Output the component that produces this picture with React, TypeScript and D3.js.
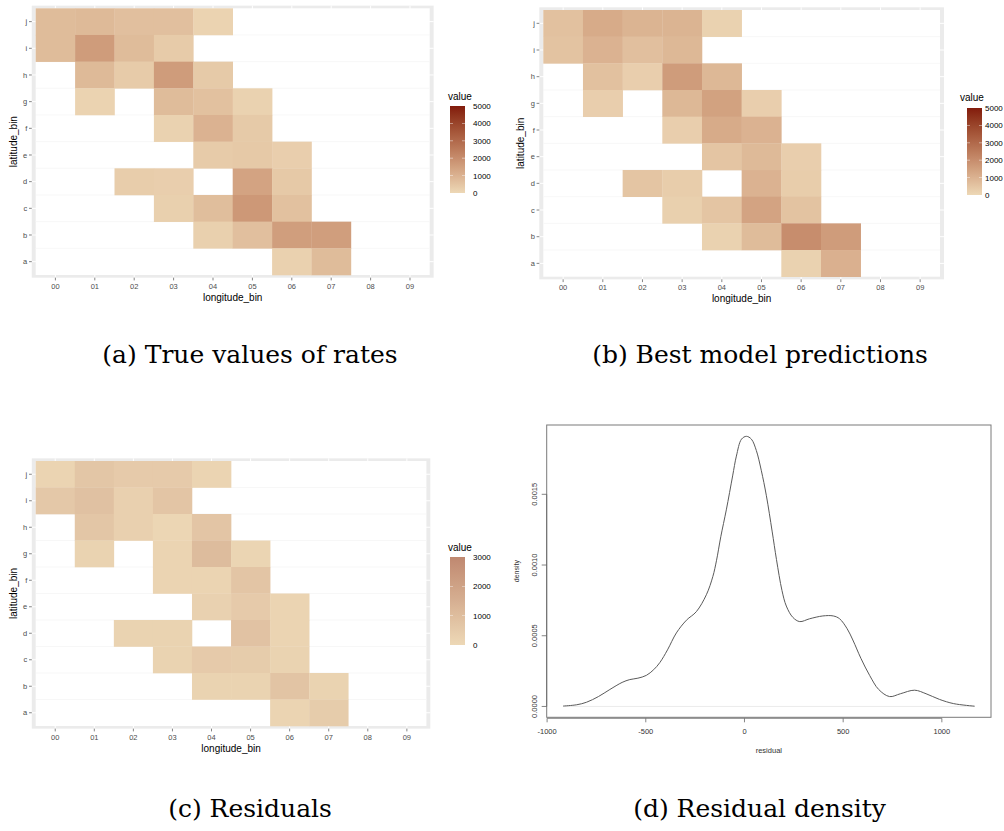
import React from 'react';
import * as d3 from 'd3';

// ---- data ----
const lonBins = ['00', '01', '02', '03', '04', '05', '06', '07', '08', '09'];
const latBins = ['j', 'i', 'h', 'g', 'f', 'e', 'd', 'c', 'b', 'a']; // top to bottom

type Row = (number | null)[];
const _ = null;

// (a) true rates, rows j..a, cols 00..09
const trueRates: Row[] = [
  [750, 800, 650, 650, 120, _, _, _, _, _],
  [750, 1600, 750, 350, _, _, _, _, _, _],
  [_, 800, 350, 1600, 380, _, _, _, _, _],
  [_, 130, _, 750, 600, 150, _, _, _, _],
  [_, _, _, 150, 1000, 380, _, _, _, _],
  [_, _, _, _, 350, 400, 250, _, _, _],
  [_, _, 300, 250, _, 1400, 400, _, _, _],
  [_, _, _, 200, 700, 1700, 600, _, _, _],
  [_, _, _, _, 200, 650, 1550, 1550, _, _],
  [_, _, _, _, _, _, 180, 750, _, _],
];

// (b) model predictions
const predictions: Row[] = [
  [600, 1200, 950, 950, 150, _, _, _, _, _],
  [550, 1000, 650, 850, _, _, _, _, _, _],
  [_, 600, 250, 1600, 850, _, _, _, _, _],
  [_, 250, _, 850, 1450, 250, _, _, _, _],
  [_, _, _, 250, 1200, 1000, _, _, _, _],
  [_, _, _, _, 500, 800, 250, _, _, _],
  [_, _, 500, 300, _, 1000, 300, _, _, _],
  [_, _, _, 200, 500, 1400, 550, _, _, _],
  [_, _, _, _, 150, 750, 2000, 1600, _, _],
  [_, _, _, _, _, _, 150, 1050, _, _],
];

// (c) residuals
const residuals: Row[] = [
  [150, 650, 500, 500, 150, _, _, _, _, _],
  [600, 850, 300, 700, _, _, _, _, _, _],
  [_, 650, 300, 80, 700, _, _, _, _, _],
  [_, 200, _, 150, 1050, 120, _, _, _, _],
  [_, _, _, 150, 150, 700, _, _, _, _],
  [_, _, _, _, 250, 500, 150, _, _, _],
  [_, _, 200, 200, _, 800, 150, _, _, _],
  [_, _, _, 200, 500, 450, 200, _, _, _],
  [_, _, _, _, 200, 200, 750, 200, _, _],
  [_, _, _, _, _, _, 150, 450, _, _],
];

const legendBreaksRates = [0, 1000, 2000, 3000, 4000, 5000];
const legendBreaksResid = [0, 1000, 2000, 3000];

// (d) residual density curve
const densityPts: [number, number][] = [
  [-919, 0.000003], [-850, 0.000012], [-800, 0.00003], [-740, 0.00007], [-682, 0.00012],
  [-620, 0.00017], [-581, 0.00019], [-540, 0.0002], [-497, 0.00022], [-460, 0.00026],
  [-429, 0.00031], [-390, 0.0004], [-345, 0.00052], [-294, 0.00061], [-244, 0.00067],
  [-193, 0.00079], [-160, 0.00092], [-142, 0.00103], [-120, 0.0012], [-92, 0.00139],
  [-60, 0.00163], [-41, 0.00177], [-15, 0.00189], [10, 0.00191], [35, 0.00189],
  [60, 0.00181], [85, 0.00167], [111, 0.00149], [140, 0.00124], [162, 0.00104],
  [190, 0.00082], [212, 0.00071], [245, 0.00063], [280, 0.0006], [330, 0.00062],
  [397, 0.00064], [450, 0.00064], [482, 0.00062], [520, 0.00055], [549, 0.00047],
  [590, 0.00034], [634, 0.00022], [680, 0.00012], [735, 0.00007], [790, 0.00009],
  [862, 0.000115], [920, 0.00009], [988, 0.00005], [1060, 0.00002], [1166, 0.000002],
];
const densXTicks = [-1000, -500, 0, 500, 1000];
const densYTicks = [0, 0.0005, 0.001, 0.0015];

// ---- styles ----
const SANS = '"Liberation Sans", Arial, sans-serif';
const SERIF = '"DejaVu Serif", "Liberation Serif", serif';
const LOW = '#EDD8B6';

const rateColor = d3.scaleLinear<string>().domain([0, 5000]).range([LOW, '#821B0C']).interpolate(d3.interpolateLab);
const residColor = d3.scaleLinear<string>().domain([0, 3000]).range([LOW, '#BF8870']).interpolate(d3.interpolateLab);

interface HeatProps {
  id: string;
  values: Row[];
  color: d3.ScaleLinear<string, string>;
  xr: [number, number];
  yr: [number, number];
  legend: { tx: number; ty: number; bx: number; by0: number; by1: number; max: number; breaks: number[]; lx: number };
}

const Heatmap: React.FC<HeatProps> = ({ id, values, color, xr, yr, legend }) => {
  const x = d3.scaleBand<string>().domain(lonBins).range(xr);
  const y = d3.scaleBand<string>().domain(latBins).range(yr);
  const padX = x.bandwidth() * 0.1;
  const padY = y.bandwidth() * 0.1;
  const left = xr[0] - padX, right = xr[1] + padX;
  const top = yr[0] - padY, bottom = yr[1] + padY;
  const ly = d3.scaleLinear().domain([0, legend.max]).range([legend.by1, legend.by0]);
  const stops = d3.range(0, 1.0001, 0.1);

  return (
    <g>
      <rect x={left} y={top} width={right - left} height={bottom - top} fill="#EBEBEB" />
      {lonBins.map(l => (
        <line key={'gx' + l} x1={x(l)! + x.bandwidth() / 2} x2={x(l)! + x.bandwidth() / 2} y1={top} y2={bottom} stroke="#fff" strokeWidth={1} />
      ))}
      {latBins.map(l => (
        <line key={'gy' + l} y1={y(l)! + y.bandwidth() / 2} y2={y(l)! + y.bandwidth() / 2} x1={left} x2={right} stroke="#fff" strokeWidth={1} />
      ))}
      <rect x={xr[0]} y={yr[0]} width={xr[1] - xr[0]} height={yr[1] - yr[0]} fill="#fff" />
      {latBins.slice(1).map(l => (
        <line key={'sy' + l} x1={xr[0]} x2={xr[1]} y1={y(l)!} y2={y(l)!} stroke="#F5F5F5" strokeWidth={0.8} />
      ))}
      {values.map((row, ri) =>
        row.map((v, ci) =>
          v == null ? null : (
            <rect key={`${ri}-${ci}`} x={x(lonBins[ci])!} y={y(latBins[ri])!} width={x.bandwidth() + 0.3} height={y.bandwidth() + 0.3} fill={color(v)} />
          )
        )
      )}
      {/* axes */}
      {lonBins.map(l => {
        const cx = x(l)! + x.bandwidth() / 2;
        return (
          <g key={'xt' + l}>
            <line x1={cx} x2={cx} y1={bottom} y2={bottom + 2.75} stroke="#333" strokeWidth={0.6} />
            <text x={cx} y={bottom + 11} textAnchor="middle" fontSize={7.5} fill="#4D4D4D" fontFamily={SANS}>{l}</text>
          </g>
        );
      })}
      {latBins.map(l => {
        const cy = y(l)! + y.bandwidth() / 2;
        return (
          <g key={'yt' + l}>
            <line x1={left - 2.75} x2={left} y1={cy} y2={cy} stroke="#333" strokeWidth={0.6} />
            <text x={left - 4.5} y={cy + 2.7} textAnchor="end" fontSize={7.5} fill="#4D4D4D" fontFamily={SANS}>{l}</text>
          </g>
        );
      })}
      <text x={(left + right) / 2} y={bottom + 23} textAnchor="middle" fontSize={10} fontFamily={SANS} fill="#000">longitude_bin</text>
      <text transform={`translate(${left - 15},${(top + bottom) / 2}) rotate(-90)`} textAnchor="middle" fontSize={10} fontFamily={SANS} fill="#000">latitude_bin</text>
      {/* legend */}
      <defs>
        <linearGradient id={id} x1="0" y1="1" x2="0" y2="0">
          {stops.map(s => (
            <stop key={s} offset={s} stopColor={color(s * legend.max)} />
          ))}
        </linearGradient>
      </defs>
      <text x={legend.tx} y={legend.ty} fontSize={10} fontFamily={SANS} fill="#000">value</text>
      <rect x={legend.bx} y={legend.by0} width={15} height={legend.by1 - legend.by0} fill={`url(#${id})`} />
      {legend.breaks.map(b => (
        <g key={'lb' + b}>
          {b > 0 && b < legend.max && (
            <>
              <line x1={legend.bx} x2={legend.bx + 3} y1={ly(b)} y2={ly(b)} stroke="#fff" strokeWidth={0.6} opacity={0.8} />
              <line x1={legend.bx + 12} x2={legend.bx + 15} y1={ly(b)} y2={ly(b)} stroke="#fff" strokeWidth={0.6} opacity={0.8} />
            </>
          )}
          <text x={legend.lx} y={ly(b) + 2.9} fontSize={8} fontFamily={SANS} fill="#000">{b}</text>
        </g>
      ))}
    </g>
  );
};

const DensityPlot: React.FC = () => {
  const x = d3.scaleLinear().domain([-1002, 1249]).range([546.7, 991]);
  const y = d3.scaleLinear().domain([-0.0000766, 0.00199]).range([717.3, 425]);
  const line = d3.line<[number, number]>().x(d => x(d[0])).y(d => y(d[1])).curve(d3.curveCatmullRom.alpha(0.5));
  const x0 = x.range()[0], x1 = x.range()[1];
  const y0 = y.range()[0], y1 = y.range()[1];
  return (
    <g fontFamily={SANS}>
      <rect x={x0} y={y1} width={x1 - x0} height={y0 - y1} fill="none" stroke="#7a7a7a" strokeWidth={1} />
      <line x1={x(densityPts[0][0])} x2={x(densityPts[densityPts.length - 1][0])} y1={y(0)} y2={y(0)} stroke="#E6E6E6" strokeWidth={0.8} />
      <path d={line(densityPts) || ''} fill="none" stroke="#5a5a5a" strokeWidth={1} />
      <line x1={x(densXTicks[0])} x2={x(densXTicks[densXTicks.length - 1])} y1={y0 + 1} y2={y0 + 1} stroke="#666" strokeWidth={0.8} />
      {densXTicks.map(t => (
        <g key={'dx' + t}>
          <line x1={x(t)} x2={x(t)} y1={y0 + 1} y2={y0 + 5} stroke="#666" strokeWidth={0.8} />
          <text x={x(t)} y={y0 + 17} textAnchor="middle" fontSize={7.5} fill="#333">{t}</text>
        </g>
      ))}
      <line x1={x0} x2={x0} y1={y(0)} y2={y(0.0015)} stroke="#666" strokeWidth={0.8} />
      {densYTicks.map(t => (
        <g key={'dy' + t}>
          <line x1={x0 - 5} x2={x0} y1={y(t)} y2={y(t)} stroke="#666" strokeWidth={0.8} />
          <text transform={`translate(${x0 - 10},${y(t)}) rotate(-90)`} textAnchor="middle" fontSize={7.5} fill="#333">{t.toFixed(4)}</text>
        </g>
      ))}
      <text x={(x0 + x1) / 2} y={753} textAnchor="middle" fontSize={7.5} fill="#333">residual</text>
      <text transform={`translate(519,${(y0 + y1) / 2}) rotate(-90)`} textAnchor="middle" fontSize={7} fill="#333">density</text>
    </g>
  );
};

const captions = [
  { text: '(a) True values of rates', x: 250, y: 363 },
  { text: '(b) Best model predictions', x: 760, y: 363 },
  { text: '(c) Residuals', x: 250, y: 817 },
  { text: '(d) Residual density', x: 759.5, y: 817 },
];

export default function App() {
  return (
    <svg width={1004} height={831} style={{ position: 'absolute', left: 0, top: 0, background: '#fff' }}>
      <rect width={1004} height={831} fill="#fff" />
      <Heatmap
        id="gradA"
        values={trueRates}
        color={rateColor}
        xr={[35.7, 429.7]}
        yr={[8.3, 275]}
        legend={{ tx: 448, ty: 100, bx: 450, by0: 106, by1: 193, max: 5000, breaks: legendBreaksRates, lx: 473 }}
      />
      <Heatmap
        id="gradB"
        values={predictions}
        color={rateColor}
        xr={[543.3, 940]}
        yr={[10, 276.7]}
        legend={{ tx: 960, ty: 101, bx: 967, by0: 108, by1: 195, max: 5000, breaks: legendBreaksRates, lx: 985 }}
      />
      <Heatmap
        id="gradC"
        values={residuals}
        color={residColor}
        xr={[35.7, 426.4]}
        yr={[461, 726]}
        legend={{ tx: 448, ty: 551, bx: 450, by0: 557, by1: 645, max: 3000, breaks: legendBreaksResid, lx: 473 }}
      />
      <DensityPlot />
      {captions.map(c => (
        <text key={c.text} x={c.x} y={c.y} textAnchor="middle" fontSize={25} fontFamily={SERIF} fill="#000">{c.text}</text>
      ))}
    </svg>
  );
}
